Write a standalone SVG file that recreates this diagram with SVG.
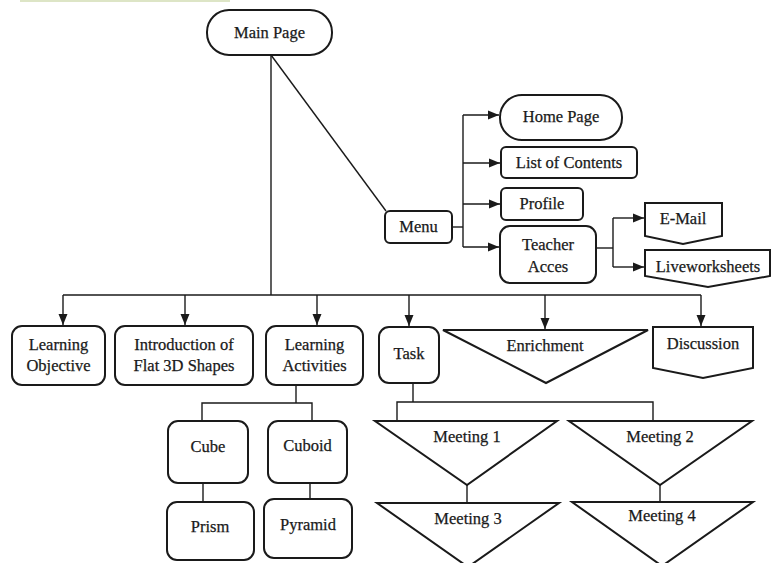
<svg xmlns="http://www.w3.org/2000/svg" width="772" height="563" viewBox="0 0 772 563">
<defs>
<style>
.n{fill:#fff;stroke:#1a1a1a;stroke-width:2}
.c{fill:none;stroke:#1a1a1a;stroke-width:1.4}
.t{font-family:"Liberation Serif","Times New Roman",serif;font-size:16.5px;fill:#1a1a1a;text-anchor:middle;stroke:#1a1a1a;stroke-width:0.25}
</style>
<marker id="ah" markerUnits="userSpaceOnUse" markerWidth="11" markerHeight="11" viewBox="0 0 11 11" refX="11" refY="5.5" orient="auto">
<path d="M0,1 L11,5.5 L0,10 Z" fill="#1a1a1a"/>
</marker>
</defs>
<rect x="0" y="0" width="772" height="563" fill="#fff"/>
<rect x="20" y="0" width="210" height="2" fill="#dde5c6"/>

<g id="connectors">
<line class="c" x1="271" y1="55" x2="271" y2="295"/>
<line class="c" x1="271" y1="55" x2="386" y2="211"/>
<line class="c" x1="63" y1="295" x2="701" y2="295"/>
<line class="c" x1="63" y1="295" x2="63" y2="325" marker-end="url(#ah)"/>
<line class="c" x1="185" y1="295" x2="185" y2="325" marker-end="url(#ah)"/>
<line class="c" x1="317" y1="295" x2="317" y2="325" marker-end="url(#ah)"/>
<line class="c" x1="409" y1="295" x2="409" y2="326" marker-end="url(#ah)"/>
<line class="c" x1="545" y1="295" x2="545" y2="329" marker-end="url(#ah)"/>
<line class="c" x1="701" y1="295" x2="701" y2="326" marker-end="url(#ah)"/>
<polyline class="c" points="452,227 463,227"/>
<line class="c" x1="463" y1="115" x2="463" y2="247"/>
<line class="c" x1="463" y1="115" x2="499" y2="115" marker-end="url(#ah)"/>
<line class="c" x1="463" y1="163" x2="500" y2="163" marker-end="url(#ah)"/>
<line class="c" x1="463" y1="204" x2="500" y2="204" marker-end="url(#ah)"/>
<line class="c" x1="463" y1="247" x2="499" y2="247" marker-end="url(#ah)"/>
<line class="c" x1="596" y1="248" x2="613" y2="248"/>
<line class="c" x1="613" y1="218" x2="613" y2="267"/>
<line class="c" x1="613" y1="218" x2="644" y2="218" marker-end="url(#ah)"/>
<line class="c" x1="613" y1="267" x2="644" y2="267" marker-end="url(#ah)"/>
<polyline class="c" points="296,385 296,403"/>
<polyline class="c" points="202,421 202,403 312,403 312,421"/>
<line class="c" x1="203" y1="483" x2="203" y2="502"/>
<line class="c" x1="310" y1="483" x2="310" y2="499"/>
<polyline class="c" points="413,383 413,402"/>
<polyline class="c" points="397,421 397,402 653,402 653,421"/>
<line class="c" x1="467" y1="485" x2="467" y2="503"/>
<line class="c" x1="660" y1="485" x2="660" y2="502"/>
</g>

<g id="main-page">
<rect class="n" x="207" y="10" width="125" height="45" rx="22"/>
<text class="t" x="269.5" y="38">Main Page</text>
</g>
<g id="menu">
<rect class="n" x="385" y="211" width="67" height="32" rx="5"/>
<text class="t" x="418.5" y="232">Menu</text>
</g>
<g id="home-page">
<rect class="n" x="500" y="95" width="122" height="45" rx="22"/>
<text class="t" x="561" y="122">Home Page</text>
</g>
<g id="list-of-contents">
<rect class="n" x="501" y="147" width="136" height="31" rx="5"/>
<text class="t" x="569" y="168">List of Contents</text>
</g>
<g id="profile">
<rect class="n" x="501" y="188" width="82" height="32" rx="5"/>
<text class="t" x="542" y="209">Profile</text>
</g>
<g id="teacher-acces">
<rect class="n" x="500" y="226" width="96" height="57" rx="10"/>
<text class="t" x="548" y="250">Teacher</text>
<text class="t" x="548" y="272">Acces</text>
</g>
<g id="e-mail">
<polygon class="n" points="645,203 722,203 722,236 683,244 645,236"/>
<text class="t" x="683" y="224">E-Mail</text>
</g>
<g id="liveworksheets">
<polygon class="n" points="645,250 770,250 770,276 708,287 645,276"/>
<text class="t" x="708" y="272">Liveworksheets</text>
</g>

<g id="learning-objective">
<rect class="n" x="12" y="326" width="93" height="59" rx="10"/>
<text class="t" x="58.5" y="350">Learning</text>
<text class="t" x="58.5" y="371">Objective</text>
</g>
<g id="introduction">
<rect class="n" x="115" y="326" width="138" height="59" rx="10"/>
<text class="t" x="184" y="350">Introduction of</text>
<text class="t" x="184" y="371">Flat 3D Shapes</text>
</g>
<g id="learning-activities">
<rect class="n" x="266" y="326" width="97" height="59" rx="10"/>
<text class="t" x="314.5" y="350">Learning</text>
<text class="t" x="314.5" y="371">Activities</text>
</g>
<g id="task">
<rect class="n" x="379" y="327" width="60" height="56" rx="10"/>
<text class="t" x="409" y="359">Task</text>
</g>
<g id="enrichment">
<polygon class="n" points="443,330 648,330 546,383"/>
<text class="t" x="545" y="351">Enrichment</text>
</g>
<g id="discussion">
<polygon class="n" points="653,327 753,327 753,368 703,378 653,368"/>
<text class="t" x="703" y="349">Discussion</text>
</g>

<g id="cube">
<rect class="n" x="168" y="421" width="80" height="62" rx="10"/>
<text class="t" x="208" y="452">Cube</text>
</g>
<g id="cuboid">
<rect class="n" x="268" y="421" width="79" height="62" rx="10"/>
<text class="t" x="307.5" y="451">Cuboid</text>
</g>
<g id="prism">
<rect class="n" x="167" y="502" width="87" height="58" rx="10"/>
<text class="t" x="210" y="532">Prism</text>
</g>
<g id="pyramid">
<rect class="n" x="264" y="499" width="88" height="59" rx="10"/>
<text class="t" x="308" y="530">Pyramid</text>
</g>

<g id="meeting-1">
<polygon class="n" points="375,421 557,421 467,485"/>
<text class="t" x="467" y="442">Meeting 1</text>
</g>
<g id="meeting-2">
<polygon class="n" points="569,421 752,421 660,485"/>
<text class="t" x="660" y="442">Meeting 2</text>
</g>
<g id="meeting-3">
<polygon class="n" points="377,503 559,503 468,567"/>
<text class="t" x="468" y="524">Meeting 3</text>
</g>
<g id="meeting-4">
<polygon class="n" points="572,502 753,502 662,566"/>
<text class="t" x="662" y="521">Meeting 4</text>
</g>
</svg>
